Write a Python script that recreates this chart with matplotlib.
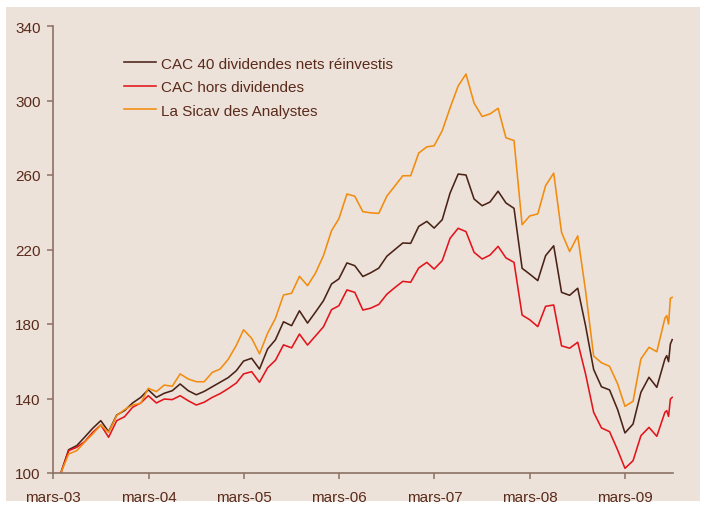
import numpy as np
import pandas as pd
import matplotlib
matplotlib.use("Agg")
import matplotlib.pyplot as plt
from matplotlib.patches import Rectangle

plt.rcParams['font.family'] = ['Liberation Sans', 'DejaVu Sans']

# monthly values (month end) from mars-03 to juil-09, then a few weekly points in août-09
months = pd.date_range("2003-03-31", "2009-07-31", freq="ME")
weeks = pd.to_datetime(["2009-08-07", "2009-08-14", "2009-08-21", "2009-08-28"])
dates = months.append(weeks)

cac_net = [100, 112.5, 114.7, 119.2, 124, 128.1, 122.2, 131.1, 133.5, 137.6, 140.6, 144.7,
           140.6, 142.8, 144.2, 147.8, 144.2, 142.0, 143.8, 146.3, 148.7, 151.2, 154.9, 160.1,
           161.6, 155.8, 166.6, 171.5, 181.2, 179.1, 187.1, 180.5, 186.3, 192.5, 201.5, 204.2,
           212.8, 211.3, 205.5, 207.5, 210, 216.4, 219.9, 223.5, 223.3, 232.4, 235.1, 231.5,
           236, 250.3, 260.5, 260, 247.1, 243.5, 245.5, 251.3, 245, 242.1, 209.9, 206.8,
           203.3, 216.7, 222, 197, 195.4, 199.2, 179.1, 155.6, 146.3, 144.6, 134, 121.5,
           126.3, 143.3, 151.4, 146, 161.2,
           163, 159.8, 169.3, 171.6]

cac_hors = [100, 112, 113.8, 116.8, 121.8, 125.8, 119.2, 128.1, 130.2, 135.3, 137.6, 141.5,
            137.6, 139.7, 139.4, 141.5, 138.8, 136.5, 138, 140.6, 142.6, 145.3, 148.3, 153.2,
            154.4, 148.7, 156.5, 160.5, 168.8, 167.2, 174.6, 168.7, 173.5, 178.5, 187.7, 189.8,
            198.3, 197.0, 187.5, 188.5, 190.5, 196, 199.5, 202.9, 202.4, 210.1, 213.1, 209.5,
            214, 226, 231.4, 229.6, 218.5, 214.9, 217, 221.7, 215.5, 213.1, 184.8, 182.3,
            178.6, 189.5, 190.2, 168.3, 167, 170.2, 153.2, 132.6, 124.2, 122.2, 112.3, 102.5,
            106.6, 120, 124.5, 119.7, 132.6,
            133.5, 130.4, 139.7, 140.6]

sicav = [100, 110.2, 112, 116.5, 120.9, 125.8, 121.8, 130.8, 134, 136.5, 137.4, 145.5,
         143.7, 147.2, 146.6, 153.2, 150.5, 149, 149, 154, 155.8, 161, 168.5, 176.9,
         172.3, 164, 175, 183, 195.6, 196.5, 205.6, 200.6, 207.2, 216.7, 230.1, 236.5,
         249.8, 248.6, 240.3, 239.7, 239.4, 248.7, 254, 259.6, 259.6, 271.8, 275.1, 275.7,
         283.8, 296, 307.8, 314.2, 298.6, 291.4, 292.8, 295.8, 280, 278.5, 233.3, 238,
         239.1, 254.3, 261, 229.2, 218.9, 227.3, 197.9, 162.8, 159.2, 157.3, 147.8, 135.8,
         138.5, 161.2, 167.5, 165.1, 183.1,
         184.5, 180, 193.8, 194.3]

labels = ["CAC 40 dividendes nets réinvestis", "CAC hors dividendes", "La Sicav des Analystes"]
colors = ["#4a2216", "#e3141b", "#f28c0f"]

bg = "#ece2da"
txt = "#5a2a1a"
axc = "#8c7064"

fig = plt.figure(figsize=(7.04, 5.06), dpi=100, facecolor="white")
fig.patches.append(Rectangle((6 / 704, 4 / 506), 694 / 704, 494 / 506,
                             transform=fig.transFigure, facecolor=bg, edgecolor="none", zorder=-10))
ax = fig.add_axes([53 / 704, 32 / 506, 620 / 704, 447 / 506])
ax.set_facecolor(bg)

for vals, lab, col in zip([cac_net, cac_hors, sicav], labels, colors):
    ax.plot(dates, vals, color=col, lw=1.15, label=lab)

ax.set_ylim(100, 340)
ax.set_yticks(np.arange(100, 341, 40))
ax.set_xlim(pd.Timestamp("2003-03-01"), pd.Timestamp("2009-08-31"))
xt = pd.date_range("2003-03-01", "2009-03-01", freq="12MS")
ax.set_xticks(xt)
ax.set_xticklabels(["mars-%02d" % (d.year % 100) for d in xt])

for s in ["top", "right"]:
    ax.spines[s].set_visible(False)
for s in ["left", "bottom"]:
    ax.spines[s].set_color(axc)
    ax.spines[s].set_linewidth(1.2)
ax.tick_params(axis="both", colors=axc, labelcolor=txt, labelsize=11, length=4, width=1.1)
ax.tick_params(axis="x", pad=8)
ax.tick_params(axis="y", pad=5)

leg = ax.legend(loc="upper left", bbox_to_anchor=(0.105, 0.945), frameon=False, fontsize=11,
                handlelength=2.1, handletextpad=0.3, labelspacing=0.62, borderaxespad=0)
for t in leg.get_texts():
    t.set_color(txt)

fig.savefig("out.png", dpi=100, facecolor="white")
